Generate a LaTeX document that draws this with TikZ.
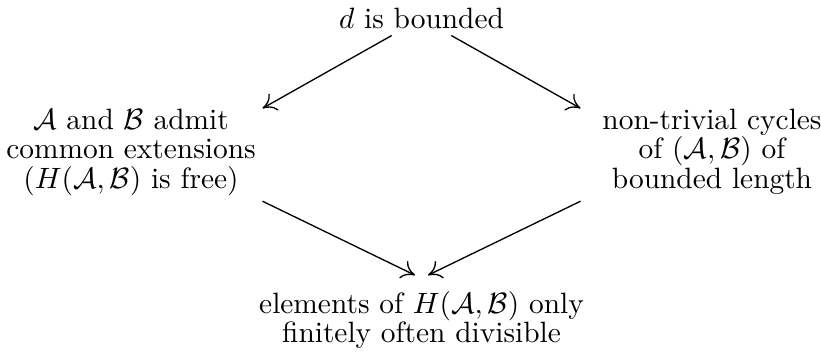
\documentclass[tikz,border=0pt]{standalone}
\usetikzlibrary{arrows.meta}
\lineskiplimit=-20pt
\begin{document}
\begin{tikzpicture}[x=1pt,y=1pt,
  txt/.style={inner sep=0pt,align=center,font=\fontsize{10}{10}\selectfont},
  arr/.style={-{To[length=4.5pt,width=6.5pt]},line width=0.45pt}]
\useasboundingbox (0,0) rectangle (279.25,121.09);
\node[txt,anchor=base] (top) at (143.37,111.56) {$d$ is bounded};
\node[txt,anchor=north] (left) at (44.56,84.15) {$\mathcal{A}$ and $\mathcal{B}$ admit\\common extensions\\($H(\mathcal{A},\mathcal{B})$ is free)};
\node[txt,anchor=north] (right) at (242.18,84.15) {non-trivial cycles\\of $(\mathcal{A},\mathcal{B})$ of\\bounded length};
\node[txt,anchor=north] (bot) at (143.37,22.13) {elements of $H(\mathcal{A},\mathcal{B})$ only\\finitely often divisible};
\draw[arr] ([shift={(-10.14pt,-2.55pt)}]top.base) -- ([shift={(44.73pt,0.1pt)}]left.north);
\draw[arr] ([shift={(10.14pt,-2.55pt)}]top.base) -- ([shift={(-44.73pt,0.1pt)}]right.north);
\draw[arr] ([shift={(44.73pt,-31.5pt)}]left.north) -- ([shift={(-2.2pt,5.35pt)}]bot.north);
\draw[arr] ([shift={(-44.73pt,-31.5pt)}]right.north) -- ([shift={(2.2pt,5.35pt)}]bot.north);
\end{tikzpicture}
\end{document}
